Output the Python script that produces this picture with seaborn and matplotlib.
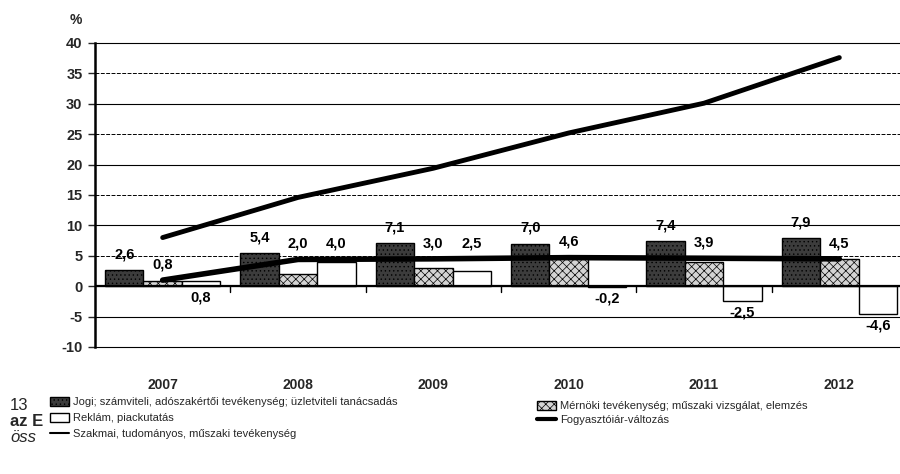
import matplotlib

matplotlib.use("Agg")
import matplotlib.pyplot as plt
import numpy as np
import pandas as pd
import seaborn as sns
from matplotlib.lines import Line2D
from matplotlib.patches import Patch

# --- data ---
years = ["2007", "2008", "2009", "2010", "2011", "2012"]
jogi = [2.6, 5.4, 7.1, 7.0, 7.4, 7.9]
mernoki = [0.8, 2.0, 3.0, 4.6, 3.9, 4.5]
reklam = [0.8, 4.0, 2.5, -0.2, -2.5, -4.6]
szakmai = [1.0, 4.4, 4.5, 4.7, 4.6, 4.5]
fogyasztoi = [8.0, 14.6, 19.4, 25.2, 30.1, 37.6]

lbl_jogi = "Jogi; számviteli, adószakértői tevékenység; üzletviteli tanácsadás"
lbl_mern = "Mérnöki tevékenység; műszaki vizsgálat, elemzés"
lbl_rekl = "Reklám, piackutatás"
lbl_szak = "Szakmai, tudományos, műszaki tevékenység"
lbl_fogy = "Fogyasztóiár-változás"
series_order = [lbl_jogi, lbl_mern, lbl_rekl]

styles = {
    lbl_jogi: {"face": "#3c3c3c", "hatch": "...."},
    lbl_mern: {"face": "#d4d4d4", "hatch": "xxxx"},
    lbl_rekl: {"face": "#ffffff", "hatch": ""},
}

sns.set_theme(style="white")
plt.rcParams["font.family"] = ["Liberation Sans", "DejaVu Sans"]
plt.rcParams["hatch.linewidth"] = 0.5

df = pd.DataFrame({
    "year": years * 3,
    "value": jogi + mernoki + reklam,
    "series": [lbl_jogi] * 6 + [lbl_mern] * 6 + [lbl_rekl] * 6,
})

fig = plt.figure(figsize=(9.0, 4.74), dpi=100)
ax = fig.add_axes([95 / 900, 127 / 474, 812 / 900, 304 / 474])

# grid lines
for yv in range(-10, 41, 5):
    dashed = yv in (35, 25, 15, 5)
    ax.axhline(yv, color="black", lw=0.8 if not dashed else 0.7,
               ls=(0, (4, 1.5)) if dashed else "-", zorder=0.5, clip_on=False)
ax.axhline(0, color="black", lw=1.6, zorder=3)

sns.barplot(data=df, x="year", y="value", hue="series", hue_order=series_order,
            palette={k: v["face"] for k, v in styles.items()}, width=0.85,
            edgecolor="black", linewidth=1.0, saturation=1, legend=False, ax=ax, zorder=2)
for name, cont in zip(series_order, ax.containers):
    for bar in cont:
        bar.set_hatch(styles[name]["hatch"])
        bar.set_edgecolor("black")

xs = np.arange(len(years))
sns.lineplot(x=xs, y=fogyasztoi, color="black", linewidth=3.5, ax=ax, zorder=4)
sns.lineplot(x=xs, y=szakmai, color="black", linewidth=4, ax=ax, zorder=4)

# group separator ticks on the zero line
for sep in xs[:-1] + 0.5:
    ax.plot([sep, sep], [0, -0.9], color="black", lw=1, zorder=3)


def fmt(v):
    return f"{v:.1f}".replace(".", ",")


# value labels
for name, cont, vals in zip(series_order, ax.containers, [jogi, mernoki, reklam]):
    for i, (bar, v) in enumerate(zip(cont, vals)):
        cx = bar.get_x() + bar.get_width() / 2
        if name == lbl_jogi:
            y = v + 2.6
        elif v < 0:
            y = v - 1.9
        elif name == lbl_rekl and v < 1:
            y = -1.9
        else:
            y = max(v, szakmai[i]) + 2.6
        ax.text(cx, y, fmt(v), ha="center", va="center", fontsize=10.5, fontweight="bold",
                color="black", zorder=6)

ax.set_xlim(-0.5, 5.5)
ax.set_ylim(-10, 40)
ax.set_yticks(range(-10, 41, 5))
ax.set_yticklabels([str(t) for t in range(-10, 41, 5)], fontsize=10.5, fontweight="bold")
ax.set_xticks(xs)
ax.set_xticklabels(years, fontsize=10, fontweight="bold")
ax.tick_params(axis="x", length=0, pad=22)
ax.tick_params(axis="y", length=5, width=1, direction="out", left=True, pad=4)
ax.set_xlabel("")
ax.set_ylabel("")
for s in ["top", "right", "bottom"]:
    ax.spines[s].set_visible(False)
ax.spines["left"].set_linewidth(1.8)
ax.spines["left"].set_color("black")

fig.text(70 / 900, 1 - 20 / 474, "%", fontsize=10, fontweight="bold", ha="left", va="center")

# stray text from the scanned page edge
fig.text(10 / 900, 1 - 405 / 474, "13", fontsize=12, ha="left", va="center")
fig.text(10 / 900, 1 - 421 / 474, "az E", fontsize=12, fontweight="bold", ha="left", va="center")
fig.text(10 / 900, 1 - 438 / 474, "öss", fontsize=12, style="italic", ha="left", va="center")

left_handles = [
    Patch(facecolor=styles[lbl_jogi]["face"], hatch=styles[lbl_jogi]["hatch"], edgecolor="black"),
    Patch(facecolor=styles[lbl_rekl]["face"], edgecolor="black"),
    Line2D([0], [0], color="black", lw=1.5),
]
fig.legend(left_handles, [lbl_jogi, lbl_rekl, lbl_szak], loc="upper left",
           bbox_to_anchor=(50 / 900, 1 - 397 / 474), frameon=False, fontsize=8,
           handlelength=1.7, handleheight=0.9, handletextpad=0.4, labelspacing=0.5,
           borderaxespad=0, borderpad=0)
right_handles = [
    Patch(facecolor=styles[lbl_mern]["face"], hatch=styles[lbl_mern]["hatch"], edgecolor="black"),
    Line2D([0], [0], color="black", lw=3),
]
fig.legend(right_handles, [lbl_mern, lbl_fogy], loc="upper left",
           bbox_to_anchor=(537 / 900, 1 - 401 / 474), frameon=False, fontsize=8,
           handlelength=1.7, handleheight=0.9, handletextpad=0.4, labelspacing=0.3,
           borderaxespad=0, borderpad=0)

fig.savefig("out.png", dpi=100, facecolor="white")
